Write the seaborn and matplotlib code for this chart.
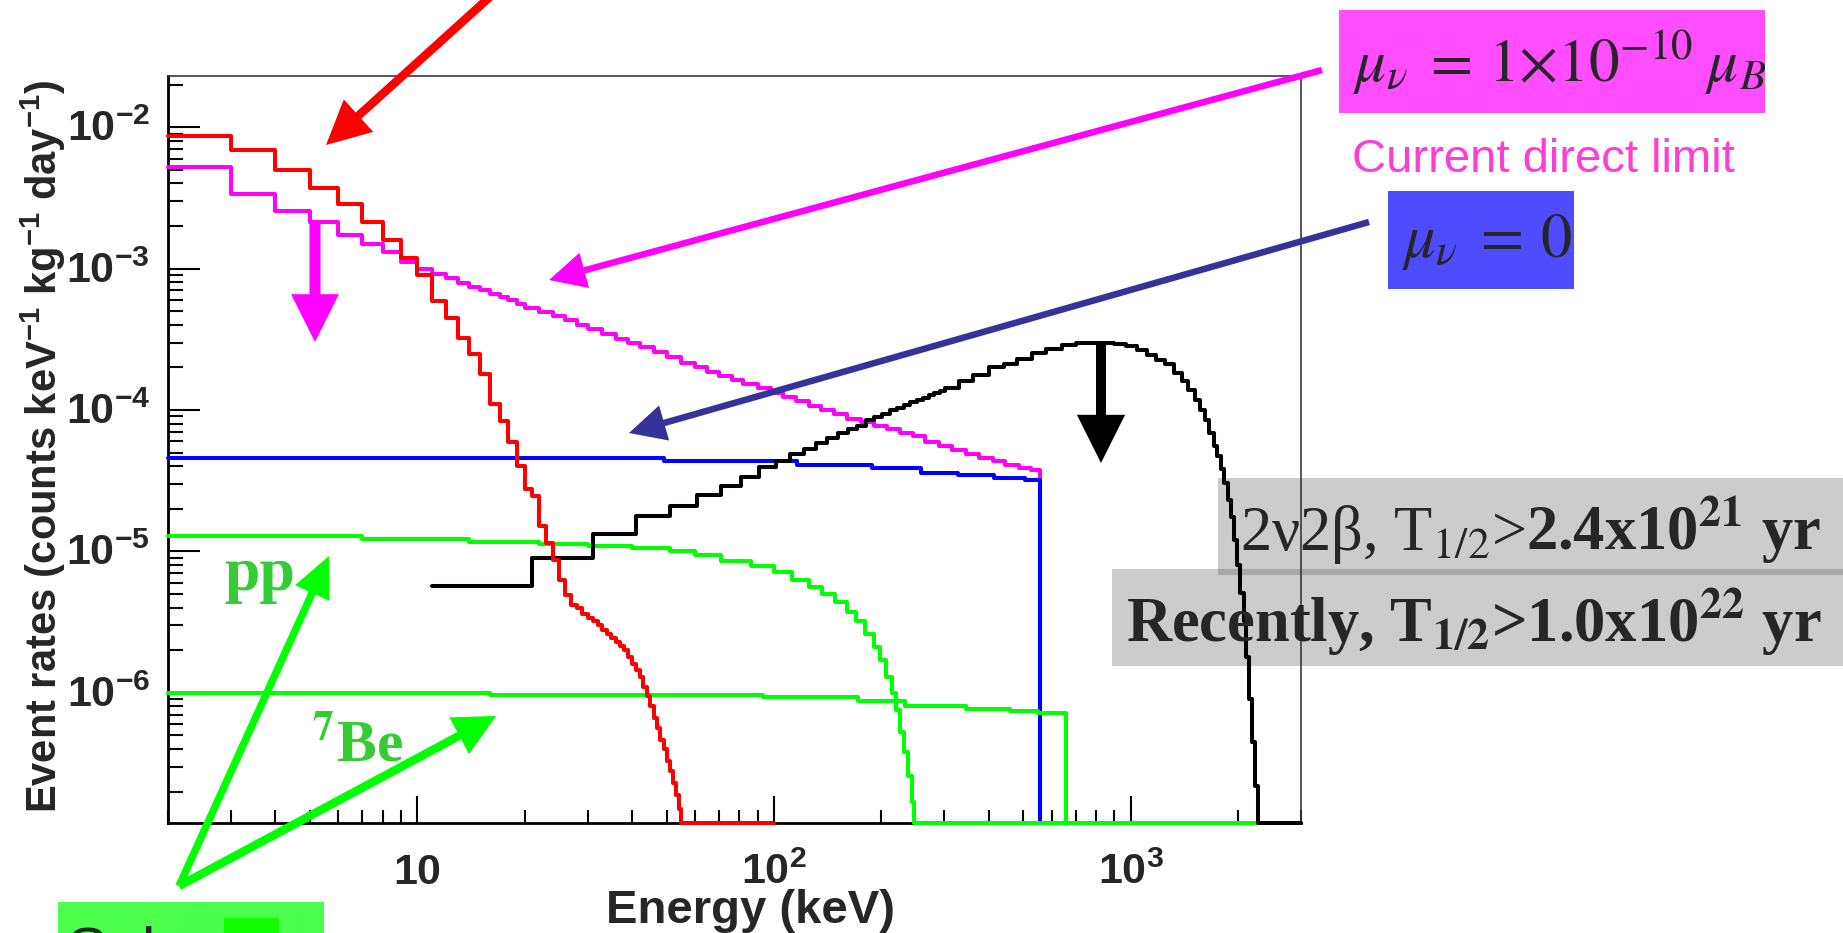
import numpy as np
import pandas as pd
import matplotlib
matplotlib.use("Agg")
import matplotlib.pyplot as plt
import seaborn as sns
from matplotlib.patches import Rectangle, FancyArrowPatch, ArrowStyle
from matplotlib import transforms, font_manager
from matplotlib.ticker import LogLocator, NullFormatter

# ---------------- data ----------------
RED_EDGES = [2, 3, 4, 5, 6, 7, 8, 9, 10, 11, 12, 13, 14, 15, 16, 17, 18, 19, 20, 21,
             22, 23, 24, 25, 26, 27, 28, 29, 30, 31, 32, 33, 34, 35, 36, 37, 38, 39, 40, 41,
             42, 43, 44, 45, 46, 47, 48, 49, 50, 51, 52, 53, 54, 55, 100]
RED_VALUES = [8.6e-3, 6.9e-3, 4.95e-3, 3.7e-3, 2.85e-3, 2.15e-3, 1.6e-3, 1.18e-3, 9.0e-4, 5.9e-4,
              4.5e-4, 3.25e-4, 2.48e-4, 1.79e-4, 1.1e-4, 8.4e-5, 5.9e-5, 4.0e-5, 2.74e-5, 2.46e-5,
              1.5e-5, 1.15e-5, 8.7e-6, 6.3e-6, 4.9e-6, 4.2e-6, 4.0e-6, 3.6e-6, 3.4e-6, 3.2e-6,
              3.0e-6, 2.8e-6, 2.6e-6, 2.45e-6, 2.3e-6, 2.15e-6, 2.0e-6, 1.8e-6, 1.6e-6, 1.45e-6,
              1.3e-6, 1.1e-6, 9.5e-7, 8.0e-7, 6.6e-7, 5.6e-7, 4.6e-7, 4.0e-7, 3.3e-7, 2.8e-7,
              2.3e-7, 1.9e-7, 1.5e-7, 0.0]

MAG_EDGES = [2, 3, 4, 5, 6, 7, 8, 9, 10, 11, 12, 13, 14, 15, 16, 17, 18, 19, 20, 22, 24, 26, 28, 30,
             33, 36, 39, 42, 46, 50, 55, 60, 65, 70, 76, 82, 90, 98, 106, 115, 125, 135, 147, 160,
             175, 190, 207, 225, 245, 265, 290, 315, 345, 375, 410, 445, 485, 525, 555, 556]
MAG_VALUES = [5.2e-3, 3.38e-3, 2.57e-3, 2.12e-3, 1.74e-3, 1.49e-3, 1.31e-3, 1.12e-3, 1.0e-3, 9.2e-4,
              8.6e-4, 7.9e-4, 7.4e-4, 7.0e-4, 6.6e-4, 6.3e-4, 5.95e-4, 5.6e-4, 5.3e-4, 4.9e-4, 4.6e-4,
              4.3e-4, 4.0e-4, 3.75e-4, 3.45e-4, 3.2e-4, 3.0e-4, 2.8e-4, 2.55e-4, 2.35e-4, 2.15e-4,
              2.0e-4, 1.86e-4, 1.75e-4, 1.63e-4, 1.52e-4, 1.42e-4, 1.32e-4, 1.24e-4, 1.15e-4, 1.07e-4,
              1.0e-4, 9.3e-5, 8.7e-5, 8.2e-5, 7.7e-5, 7.3e-5, 6.9e-5, 6.5e-5, 5.9e-5, 5.6e-5, 5.2e-5,
              4.9e-5, 4.6e-5, 4.35e-5, 4.1e-5, 3.9e-5, 3.75e-5, 0.0]

BLUE_EDGES = [2, 49, 116, 188, 258, 327, 414, 504, 555, 600]
BLUE_VALUES = [4.6e-5, 4.35e-5, 4.1e-5, 3.9e-5, 3.6e-5, 3.45e-5, 3.3e-5, 3.2e-5, 0.0]

PP_EDGES = [2, 7, 14, 22, 30, 40, 51, 60, 71, 86, 100, 112, 125, 136, 148, 160, 170, 180, 190,
            198, 206, 214, 220, 226, 232, 238, 243, 246, 2270]
PP_VALUES = [1.28e-5, 1.22e-5, 1.16e-5, 1.12e-5, 1.1e-5, 1.05e-5, 1.0e-5, 9.4e-6, 8.6e-6, 7.9e-6,
             7.1e-6, 6.3e-6, 5.6e-6, 5.0e-6, 4.4e-6, 3.7e-6, 3.2e-6, 2.6e-6, 2.1e-6, 1.7e-6, 1.3e-6,
             1.0e-6, 7.5e-7, 5.3e-7, 3.8e-7, 2.6e-7, 1.7e-7, 0.0]

BE7_EDGES = [2, 16, 93, 172, 233, 345, 460, 550, 660, 700]
BE7_VALUES = [1.0e-6, 9.6e-7, 9.3e-7, 8.8e-7, 8.1e-7, 7.7e-7, 7.4e-7, 7.2e-7, 0.0]

BB_EDGES = [11, 21, 31, 41, 51, 61, 71, 81, 91, 101, 111, 121, 131, 141, 151, 161, 171, 181, 191,
            201, 211, 221, 231, 241, 251, 261, 271, 281, 291, 301, 330, 360, 400, 440, 480, 530,
            580, 640, 700, 760, 830, 900, 970, 1040, 1110, 1180, 1250, 1320, 1390, 1450, 1510,
            1560, 1610, 1660, 1710, 1750, 1790, 1830, 1870, 1910, 1950, 1990, 2030, 2070, 2110,
            2150, 2190, 2230, 2270, 3000]
BB_VALUES = [5.7e-6, 9.0e-6, 1.33e-5, 1.77e-5, 2.08e-5, 2.5e-5, 2.89e-5, 3.35e-5, 3.96e-5, 4.35e-5,
             4.85e-5, 5.26e-5, 5.86e-5, 6.36e-5, 6.9e-5, 7.3e-5, 7.7e-5, 8.45e-5, 8.9e-5, 9.4e-5,
             9.95e-5, 1.04e-4, 1.08e-4, 1.13e-4, 1.17e-4, 1.22e-4, 1.28e-4, 1.32e-4, 1.36e-4,
             1.42e-4, 1.6e-4, 1.78e-4, 2.0e-4, 2.12e-4, 2.3e-4, 2.52e-4, 2.72e-4, 2.9e-4, 2.98e-4,
             3.0e-4, 3.0e-4, 2.95e-4, 2.84e-4, 2.66e-4, 2.45e-4, 2.25e-4, 2.1e-4, 1.84e-4, 1.6e-4,
             1.38e-4, 1.17e-4, 1.0e-4, 8.5e-5, 6.9e-5, 5.6e-5, 4.7e-5, 3.8e-5, 3.05e-5, 2.3e-5,
             1.75e-5, 1.2e-5, 8.0e-6, 5.1e-6, 3.2e-6, 1.8e-6, 9.0e-7, 4.5e-7, 2.2e-7, 0.0]

XTICKS = [10, 100, 1000]
XTICK_LABELS = [r"$10$", r"$10^{2}$", r"$10^{3}$"]
YTICKS = [1e-6, 1e-5, 1e-4, 1e-3, 1e-2]
YTICK_LABELS = [r"$10^{-6}$", r"$10^{-5}$", r"$10^{-4}$", r"$10^{-3}$", r"$10^{-2}$"]

XLABEL = "Energy (keV)"
YLABEL = r"Event rates (counts keV$^{-1}$ kg$^{-1}$ day$^{-1}$)"

XMIN, XMAX = 2, 3000
YMIN, YMAX = 1.2e-7, 2.3e-2

# ---------------- style ----------------
sns.set_style("white")
plt.rcParams.update({
    "font.family": ["Liberation Sans", "DejaVu Sans"],
    "mathtext.fontset": "custom",
    "mathtext.rm": "Liberation Sans:bold",
    "mathtext.bf": "Liberation Sans:bold",
    "mathtext.it": "Liberation Sans:bold:italic",
    "mathtext.sf": "Liberation Sans:bold",
    "axes.unicode_minus": True,
})

W, H = 1843, 933
fig = plt.figure(figsize=(W / 100, H / 100), dpi=100, facecolor="white")
AX_L, AX_R, AX_T, AX_B = 168, 1301, 76, 823
ax = fig.add_axes([AX_L / W, 1 - AX_B / H, (AX_R - AX_L) / W, (AX_B - AX_T) / H])
ax.set_facecolor("none")
ax.set_xscale("log")
ax.set_yscale("log")
ax.set_xlim(XMIN, XMAX)
ax.set_ylim(YMIN, YMAX)


def draw_hist(edges, values, color, z):
    v = np.asarray(values, dtype=float)
    v = np.where(v > 0, v, YMIN)
    y = np.append(v, v[-1])
    df = pd.DataFrame({"E": np.asarray(edges, dtype=float), "rate": y})
    sns.lineplot(data=df, x="E", y="rate", ax=ax, color=color, linewidth=2.9,
                 drawstyle="steps-post", estimator=None, sort=False, legend=False,
                 zorder=z, clip_on=False)


draw_hist(MAG_EDGES, MAG_VALUES, "#ff00ff", 3.0)
draw_hist(BLUE_EDGES, BLUE_VALUES, "#0000ff", 3.1)
draw_hist(BE7_EDGES, BE7_VALUES, "#00ff00", 3.2)
draw_hist(PP_EDGES, PP_VALUES, "#00ff00", 3.3)
draw_hist(BB_EDGES, BB_VALUES, "#000000", 3.4)
draw_hist(RED_EDGES, RED_VALUES, "#ff0000", 3.5)

ax.set_xlabel("")
ax.set_ylabel("")
ax.set_xlim(XMIN, XMAX)
ax.set_ylim(YMIN, YMAX)

for axis in (ax.xaxis, ax.yaxis):
    axis.set_major_locator(LogLocator(base=10, numticks=12))
    axis.set_minor_locator(LogLocator(base=10, subs=np.arange(2, 10), numticks=120))
    axis.set_major_formatter(NullFormatter())
    axis.set_minor_formatter(NullFormatter())
ax.tick_params(axis="x", which="major", direction="in", length=19.5, width=1.5,
               bottom=True, top=False, color="black")
ax.tick_params(axis="x", which="minor", direction="in", length=9.5, width=1.5,
               bottom=True, top=False, color="black")
ax.tick_params(axis="y", which="major", direction="in", length=23, width=1.5,
               left=True, right=False, color="black")
ax.tick_params(axis="y", which="minor", direction="in", length=11, width=1.5,
               left=True, right=False, color="black")
for s in ("left", "bottom"):
    ax.spines[s].set_linewidth(2.0)
    ax.spines[s].set_color("black")
for s in ("top", "right"):
    ax.spines[s].set_linewidth(1.2)
    ax.spines[s].set_color("#3a3a3a")

# tick labels
AX_H = AX_B - AX_T
AX_W = AX_R - AX_L
for t, lab in zip(XTICKS, XTICK_LABELS):
    ax.text(t, -61 / AX_H, lab, transform=ax.get_xaxis_transform(), ha="center",
            va="baseline", fontsize=31)
ytrans = transforms.offset_copy(ax.get_yaxis_transform(), fig=fig, x=0, y=-14, units="dots")
for t, lab in zip(YTICKS, YTICK_LABELS):
    ax.text(-18 / AX_W, t, lab, transform=ytrans, ha="right", va="baseline", fontsize=31)

# axis titles
fig.text(57 / W, 1 - 446 / H, YLABEL, rotation=90, rotation_mode="anchor", ha="center",
         va="baseline", fontsize=30, fontweight="bold")
fig.text(750 / W, 1 - 923 / H, XLABEL, ha="center", va="baseline", fontsize=34,
         fontweight="bold")


# ---------------- annotations ----------------
def P(x, y):
    return (x / W, 1 - y / H)


def rect(x0, y0, x1, y1, color, z=-5):
    fig.add_artist(Rectangle((x0 / W, 1 - y1 / H), (x1 - x0) / W, (y1 - y0) / H,
                             transform=fig.transFigure, facecolor=color, edgecolor="none",
                             zorder=z))


def arrow(p0, p1, color, lw_px, head_len_px, head_half_px):
    st = ArrowStyle("-|>", head_length=head_len_px * 0.72, head_width=head_half_px * 0.72)
    a = FancyArrowPatch(P(*p0), P(*p1), transform=fig.transFigure, arrowstyle=st,
                        color=color, lw=lw_px * 0.72, shrinkA=0, shrinkB=0,
                        mutation_scale=1, capstyle="butt", joinstyle="miter", zorder=20)
    fig.add_artist(a)


arrow((492, -5), (326, 145), "#ff0000", 8.5, 30, 15)
arrow((1322, 70), (549, 280), "#ff00ff", 6.5, 26, 13)
arrow((315, 223), (315, 342), "#ff00ff", 11, 30, 15)
arrow((1369, 222), (629, 433), "#333399", 6.5, 26, 13)
arrow((1101, 342), (1101, 463), "#000000", 10, 32, 16)
arrow((179, 886), (329, 556), "#00ff00", 7.5, 28, 13)
arrow((179, 886), (496, 716), "#00ff00", 8.5, 28, 14)

SERIF = ["Liberation Serif", "DejaVu Serif"]
fig.text(*P(260, 590), "pp", color="#33cc33", family=SERIF, fontweight="bold", fontsize=46,
         ha="center", va="baseline", zorder=21)
fig.text(*P(312, 761), r"$^{\mathbf{7}}$Be", color="#33cc33", family=SERIF, fontweight="bold",
         fontsize=43, ha="left", va="baseline", math_fontfamily="stix", zorder=21)

# magnetic moment labels
rect(1339, 10, 1765, 113, "#ff4dff", z=15)
fig.text(*P(1352, 82), r"$\mu_\nu\;{=}\,1{\times}10^{-10}\;\mu_B$", fontsize=44,
         math_fontfamily="stix", ha="left", va="baseline", zorder=21)
fig.text(*P(1352, 172), "Current direct limit", color="#ff3dd5", fontsize=34,
         ha="left", va="baseline", family=["Liberation Sans", "DejaVu Sans"], zorder=21)
rect(1388, 191, 1574, 289, "#4d4dff", z=15)
fig.text(*P(1401, 257), r"$\mu_\nu\;{=}\,0$", fontsize=45, math_fontfamily="stix",
         ha="left", va="baseline", zorder=21)

# double beta boxes (behind the plot)
rect(1112, 569, 1850, 666, "#cccccc", z=-6)
rect(1218, 478, 1850, 572, "#cccccc", z=-5)
rect(1218, 569, 1850, 575, "#a8a8a8", z=-4)
t_bold = fig.text(*P(1821, 550), r"2.4x10$^{\mathbf{21}}$ yr", family=SERIF, fontweight="bold",
                  fontsize=45, ha="right", va="baseline", math_fontfamily="stix", zorder=21)
renderer = fig.canvas.get_renderer()
bb = t_bold.get_window_extent(renderer)
fig.text(bb.x0 / W, 1 - 550 / H, "2\u03bd2\u03b2, T$_{1/2}$>", family=SERIF, fontsize=45,
         ha="right", va="baseline", math_fontfamily="stix", zorder=21)
fig.text(*P(1821, 642), r"Recently, T$_{\mathbf{1/2}}$>1.0x10$^{\mathbf{22}}$ yr", family=SERIF,
         fontweight="bold", fontsize=45, ha="right", va="baseline", math_fontfamily="stix",
         zorder=21)

# solar neutrino box (cut by the bottom edge, as in the reference)
rect(58, 902, 324, 940, "#4dff4d", z=15)
rect(224, 918, 279, 940, "#11ff00", z=16)
fig.text(*P(67, 969), "Solar \u03bd", fontsize=44, ha="left", va="baseline", zorder=21,
         family=["Liberation Sans", "DejaVu Sans"])

fig.savefig("out.png", dpi=100, facecolor="white")
